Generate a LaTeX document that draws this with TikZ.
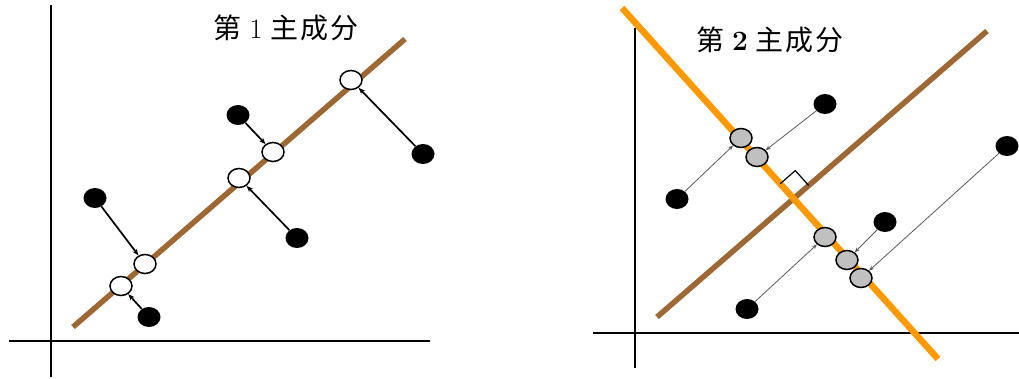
\documentclass[tikz,border=0pt]{standalone}
\usepackage{fontspec}
\newfontfamily\cjk{Noto Sans CJK SC}
\usetikzlibrary{shapes.geometric,arrows.meta,calc}
\definecolor{pcbrown}{RGB}{158,104,52}
\definecolor{pcorange}{RGB}{255,153,0}
\definecolor{pcgray}{RGB}{192,192,192}
\tikzset{
  axis/.style={line width=1.6pt,black},
  pcline/.style={line width=5.5pt,pcbrown},
  pc2line/.style={line width=6.5pt,pcorange},
  dot/.style={ellipse,fill=black,minimum width=23pt,minimum height=20pt,inner sep=0pt},
  proj/.style={ellipse,draw=black,line width=1.5pt,fill=white,minimum width=22pt,minimum height=19pt,inner sep=0pt},
  gproj/.style={ellipse,draw=black,line width=1.5pt,fill=pcgray,minimum width=22pt,minimum height=19pt,inner sep=0pt},
  parr/.style={-{Stealth[length=6.5pt,width=5pt]},line width=1.7pt,black},
  garr/.style={-{Stealth[length=5pt,width=4pt]},line width=0.8pt,black!65},
  lbl/.style={font=\fontsize{28}{33}\selectfont,inner sep=0pt}
}
\begin{document}
\begin{tikzpicture}[x=1pt,y=-1pt]
\useasboundingbox (0,0) rectangle (1019,378);
% ---------- left panel ----------
\draw[axis] (51,5) -- (51,377);
\draw[axis] (9,341) -- (430,341);
\draw[pcline] (73,327) -- (405,39);
\node[lbl] (t1) at (286,28) {{\cjk 第}\hspace{8pt}1\hspace{8pt}{\cjk 主}\hspace{2pt}{\cjk 成}\hspace{2pt}{\cjk 分}};
\node[proj] (o1) at (351,80) {};
\node[proj] (o2) at (273,152) {};
\node[proj] (o3) at (239,178) {};
\node[proj] (o4) at (145,264) {};
\node[proj] (o5) at (121,286) {};
\node[dot] (d1) at (238,115) {};
\node[dot] (d2) at (423,154) {};
\node[dot] (d3) at (95,198) {};
\node[dot] (d4) at (297,238) {};
\node[dot] (d5) at (149,317) {};
\draw[parr] (d1) -- (o2);
\draw[parr] (d2) -- (o1);
\draw[parr] (d3) -- (o4);
\draw[parr] (d4) -- (o3);
\draw[parr] (d5) -- (o5);
% ---------- right panel ----------
\draw[axis] (635,28) -- (635,368);
\draw[axis] (593,333) -- (1019,333);
\draw[pcline] (657,317) -- (987,31);
\draw[pc2line] (622,8) -- (938,359);
\coordinate (x) at (793.6,198.6);
\draw[line width=1.2pt,black] ($(x)+(-13.4,-14.9)$) -- ++(15.1,-13.1) -- ++(13.4,14.9);
\node[lbl] (t2) at (770,40) {{\cjk 第}\hspace{8pt}\textbf{2}\hspace{8pt}{\cjk 主}\hspace{2pt}{\cjk 成}\hspace{2pt}{\cjk 分}};
\node[gproj] (g1) at (741,138) {};
\node[gproj] (g2) at (757,157) {};
\node[gproj] (g3) at (825,237) {};
\node[gproj] (g4) at (847,260) {};
\node[gproj] (g5) at (861,278) {};
\node[dot] (b1) at (825,104) {};
\node[dot] (b2) at (677,199) {};
\node[dot] (b3) at (1007,146) {};
\node[dot] (b4) at (885,222) {};
\node[dot] (b5) at (747,309) {};
\draw[garr] (b1) -- (g2);
\draw[garr] (b2) -- (g1);
\draw[garr] (b3) -- (g5);
\draw[garr] (b4) -- (g4);
\draw[garr] (b5) -- (g3);
\end{tikzpicture}
\end{document}
